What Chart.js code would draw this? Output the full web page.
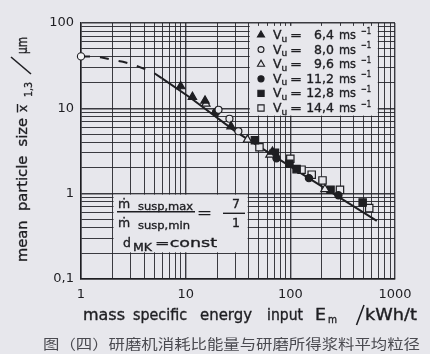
<!DOCTYPE html>
<html>
<head>
<meta charset="utf-8">
<script src="https://cdn.jsdelivr.net/npm/chart.js@4.4.1/dist/chart.umd.min.js"></script>
<style>
  html, body { margin: 0; padding: 0; background: #e7e7ec; }
  #wrap { width: 430px; height: 354px; }
</style>
</head>
<body>
<div id="wrap"><canvas id="chart" width="430" height="354"></canvas></div>
<script>
(function() {
  /* circumferential speeds Vu, ms^-1 */
  var speeds = ['6,4', '8,0', '9,6', '11,2', '12,8', '14,4'];

  /* measured points: energy input Em (kWh/t) and mean particle size (um) */
  var energy64 = [8.96, 11.6, 15.3, 27.1, 67.5];
  var size64 = [18.1, 13.6, 12.3, 6.14, 3.1];
  var energy80 = [20.6, 26.2, 31.9];
  var size80 = [9.63, 7.55, 5.39];
  var energy96 = [15.6, 38.9, 63.9, 214];
  var size96 = [11.3, 4.29, 2.86, 1.13];
  var energy112 = [19.5, 73.7, 150.6, 288];
  var size112 = [9.0, 2.6, 1.52, 0.957];
  var energy128 = [45.9, 71.3, 98, 114.8, 242, 491];
  var size128 = [4.23, 3.01, 2.24, 1.94, 1.11, 0.789];
  var energy144 = [50.7, 100, 128, 160, 203, 298, 567];
  var size144 = [3.5, 2.56, 1.91, 1.67, 1.43, 1.11, 0.678];

  /* fitted curve: dashed extrapolation and solid part */
  var fitDashE = [1, 1.27, 1.58, 1.98, 2.52, 3.12, 3.91, 4.84, 5.9];
  var fitDashX = [40.6, 40.6, 39.5, 37.1, 35.2, 32.7, 29.4, 26.6, 22.6];
  var fitE = [5.9, 11, 29.6, 123.6, 670];
  var fitX = [22.6, 13.4, 5.4, 1.76, 0.48];

  var xDecades = [1, 10, 100, 1000];
  var xTickLabels = ['1', '10', '100', '1000'];
  var yDecades = [0.1, 1, 10, 100];
  var yTickLabels = ['0,1', '1', '10', '100'];

  var INK = '#1e1e22';
  var BG = '#e7e7ec';
  var GRID = 'rgba(34,34,40,0.88)';
  var FONT = "'DejaVu Sans', sans-serif";

  function pts(xs, ys) {
    return xs.map(function(x, i) { return { x: x, y: ys[i] }; });
  }

  function gridValues(decades) {
    var out = [];
    for (var i = 0; i < decades.length - 1; i++) {
      for (var k = 1; k < 10; k++) out.push(decades[i] * k);
    }
    out.push(decades[decades.length - 1]);
    return out;
  }

  function isDecade(v, decades) {
    for (var i = 0; i < decades.length; i++) {
      if (Math.abs(Math.log10(v) - Math.log10(decades[i])) < 1e-6) return i;
    }
    return -1;
  }

  function tickLabel(decades, labels) {
    return function(v) {
      var i = isDecade(v, decades);
      return i >= 0 ? labels[i] : '';
    };
  }

  var series = [
    { data: pts(energy64, size64), style: 'triangle', filled: true, r: 4.8 },
    { data: pts(energy80, size80), style: 'circle', filled: false, r: 3.5 },
    { data: pts(energy96, size96), style: 'triangle', filled: false, r: 4.8 },
    { data: pts(energy112, size112), style: 'circle', filled: true, r: 3.6 },
    { data: pts(energy128, size128), style: 'rect', filled: true, r: 5.2 },
    { data: pts(energy144, size144), style: 'rect', filled: false, r: 5.2 }
  ];

  var datasets = series.map(function(s, i) {
    return {
      label: speeds[i],
      data: s.data,
      showLine: false,
      pointStyle: s.style,
      pointRadius: s.r,
      pointBackgroundColor: s.filled ? INK : BG,
      pointBorderColor: INK,
      pointBorderWidth: 1.2
    };
  });

  datasets.push({
    label: 'fit',
    data: pts(fitE, fitX),
    showLine: true,
    borderColor: INK,
    borderWidth: 2,
    pointRadius: 0
  });
  datasets.push({
    label: 'fit extrapolated',
    data: pts(fitDashE, fitDashX),
    showLine: true,
    borderColor: INK,
    borderWidth: 2,
    borderDash: [9, 10],
    pointStyle: 'circle',
    pointRadius: fitDashE.map(function(v, i) { return i === 0 ? 3.6 : 0; }),
    pointBackgroundColor: '#f4f4f6',
    pointBorderColor: INK,
    pointBorderWidth: 1.1,
    clip: false
  });

  /* text helper: optional rotation, fit to width, slight stroke to thicken */
  function txt(ctx, s, x, y, size, o) {
    o = o || {};
    ctx.save();
    ctx.font = size + 'px ' + (o.family || FONT);
    ctx.fillStyle = o.color || INK;
    ctx.strokeStyle = o.color || INK;
    ctx.textBaseline = 'alphabetic';
    ctx.textAlign = 'left';
    var w = ctx.measureText(s).width;
    var sx = o.w ? o.w / w : 1;
    var dw = w * sx;
    ctx.translate(x, y);
    if (o.rot) ctx.rotate(-Math.PI / 2);
    if (o.align === 'right') ctx.translate(-dw, 0);
    if (o.align === 'center') ctx.translate(-dw / 2, 0);
    ctx.scale(sx, o.sy || 1);
    ctx.fillText(s, 0, 0);
    if (o.thin !== true) {
      ctx.lineWidth = 0.35;
      ctx.strokeText(s, 0, 0);
    }
    ctx.restore();
  }

  function line(ctx, x0, y0, x1, y1, lw) {
    ctx.save();
    ctx.strokeStyle = INK;
    ctx.lineWidth = lw || 1.4;
    ctx.beginPath();
    ctx.moveTo(x0, y0);
    ctx.lineTo(x1, y1);
    ctx.stroke();
    ctx.restore();
  }

  function boxRect(chart, b) {
    var xs = chart.scales.x, ys = chart.scales.y;
    var l = xs.getPixelForValue(b.x0) + 1, r = xs.getPixelForValue(b.x1) - 1;
    var t = ys.getPixelForValue(b.y1) + 1, btm = ys.getPixelForValue(b.y0) - 1;
    return { l: l, t: t, w: r - l, h: btm - t };
  }

  var legendBox = { x0: 40, x1: 700, y0: 8, y1: 95 };
  var noteBox = { x0: 2, x1: 40, y0: 0.2, y1: 1 };

  var paper = {
    id: 'paper',
    beforeDraw: function(chart) {
      var ctx = chart.ctx;
      ctx.save();
      ctx.fillStyle = BG;
      ctx.fillRect(0, 0, chart.width, chart.height);
      ctx.restore();
    },
    beforeDatasetsDraw: function(chart) {
      var ctx = chart.ctx;
      ctx.save();
      ctx.fillStyle = BG;
      [legendBox, noteBox].forEach(function(b) {
        var r = boxRect(chart, b);
        ctx.fillRect(r.l, r.t, r.w, r.h);
      });
      ctx.restore();
    },
    afterDraw: function(chart) {
      var ctx = chart.ctx;

      /* legend */
      series.forEach(function(s, i) {
        var cy = 35 + i * 14.6;
        ctx.save();
        ctx.fillStyle = s.filled ? INK : BG;
        ctx.strokeStyle = INK;
        ctx.lineWidth = 1.1;
        Chart.helpers.drawPoint(ctx, { pointStyle: s.style, radius: s.r * 0.85, rotation: 0, borderWidth: 1.1 }, 261, cy);
        ctx.restore();
        txt(ctx, 'V', 273, cy + 4, 12.5, { w: 8.5 });
        txt(ctx, 'u', 281.5, cy + 6.5, 9);
        txt(ctx, '=', 290, cy + 4, 12.5, { w: 12 });
        txt(ctx, speeds[i], 334, cy + 4, 12.5, { align: 'right' });
        txt(ctx, 'ms', 339, cy + 4, 12.5, { w: 17 });
        txt(ctx, '\u22121', 361, cy - 1.5, 9, { w: 10 });
      });

      /* note box */
      txt(ctx, '\u1e41', 118, 208, 12.5);
      txt(ctx, 'susp,max', 138, 210, 10.5, { w: 55 });
      line(ctx, 117, 211.7, 195, 211.7, 1.4);
      txt(ctx, '\u1e41', 118, 227, 12.5);
      txt(ctx, 'susp,min', 138, 229, 10.5, { w: 52 });
      txt(ctx, '=', 197, 216.5, 13, { w: 15 });
      txt(ctx, '7', 232, 208, 12.5);
      line(ctx, 223, 213.3, 245, 213.3, 1.4);
      txt(ctx, '1', 232, 227, 12.5);
      txt(ctx, 'd', 123, 247, 12.5);
      txt(ctx, 'MK', 133, 251, 10, { w: 19 });
      txt(ctx, '=const', 155, 247, 12.5, { w: 62 });

      /* x axis title */
      txt(ctx, 'mass', 83, 320, 15, { w: 42 });
      txt(ctx, 'specific', 133, 320, 15, { w: 54 });
      txt(ctx, 'energy', 200, 320, 15, { w: 52 });
      txt(ctx, 'input', 267, 320, 15, { w: 36 });
      txt(ctx, 'E', 315, 320, 15, { w: 11 });
      txt(ctx, 'm', 328, 323, 10, { w: 9 });
      line(ctx, 356.5, 325, 364, 305, 1.6);
      txt(ctx, 'kWh/t', 365, 320, 15, { w: 52 });

      /* y axis title, rotated */
      txt(ctx, 'mean  particle  size', 27, 262, 14.5, { rot: true, w: 144 });
      txt(ctx, 'x', 27, 112, 13, { rot: true, w: 7 });
      line(ctx, 17.5, 104, 17.5, 112.5, 1.4);
      txt(ctx, '1,3', 31.5, 97, 10, { rot: true, w: 15 });
      line(ctx, 31, 74, 11, 57, 1.6);
      txt(ctx, '\u03bcm', 27, 54, 14, { rot: true, w: 17 });

      /* caption */
      txt(ctx, '\u56fe\uff08\u56db\uff09\u7814\u78e8\u673a\u6d88\u8017\u6bd4\u80fd\u91cf\u4e0e\u7814\u78e8\u6240\u5f97\u6d46\u6599\u5e73\u5747\u7c92\u5f84',
        43, 349, 14, { family: "'Noto Sans CJK SC', sans-serif", w: 377, color: '#4a4a50', thin: true });
    }
  };

  function scaleOpts(decades, labels, extra) {
    var o = {
      type: 'logarithmic',
      min: decades[0],
      max: decades[decades.length - 1],
      afterBuildTicks: function(s) {
        s.ticks = gridValues(decades).map(function(v) { return { value: v }; });
      },
      ticks: {
        autoSkip: false,
        maxRotation: 0,
        font: { family: FONT, size: 13 },
        color: INK,
        callback: tickLabel(decades, labels)
      },
      grid: {
        drawTicks: false,
        color: GRID,
        lineWidth: function(c) {
          return c.tick && isDecade(c.tick.value, decades) >= 0 ? 1.4 : 1;
        }
      },
      border: { color: INK, width: 1.5 }
    };
    for (var k in extra) o[k] = extra[k];
    return o;
  }

  var xScale = scaleOpts(xDecades, xTickLabels, {
    position: 'bottom',
    afterFit: function(s) { s.height = 75; s.paddingLeft = 0; s.paddingRight = 0; }
  });
  xScale.ticks.padding = 8;

  var yScale = scaleOpts(yDecades, yTickLabels, {
    position: 'left',
    afterFit: function(s) { s.width = 81; s.paddingTop = 0; s.paddingBottom = 0; }
  });
  yScale.ticks.padding = 7;

  new Chart(document.getElementById('chart'), {
    type: 'scatter',
    data: { datasets: datasets },
    options: {
      responsive: false,
      animation: false,
      events: [],
      layout: { padding: { left: 0, top: 23, right: 35, bottom: 0 } },
      plugins: {
        legend: { display: false },
        tooltip: { enabled: false }
      },
      scales: { x: xScale, y: yScale }
    },
    plugins: [paper]
  });
})();
</script>
</body>
</html>
